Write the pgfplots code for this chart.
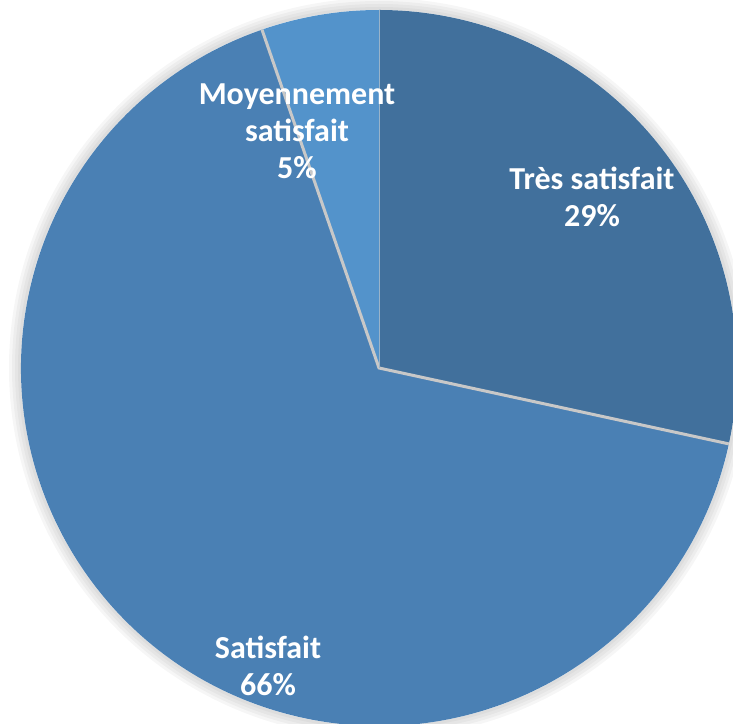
\documentclass[border=0pt]{standalone}
\usepackage{pgfplots}
\pgfplotsset{compat=1.18}
\usepackage{fontspec}
\setmainfont{Carlito}
\definecolor{tres}{HTML}{41709C}
\definecolor{sat}{HTML}{4A80B4}
\definecolor{moy}{HTML}{5393CB}
\definecolor{sep}{HTML}{C8C8C8}
\begin{document}
\begin{tikzpicture}
% values (percent), clockwise from 12 o'clock
\def\vTres{28.4}
\def\vSat{66.3}
\def\vMoy{5.3}
\def\cx{379}\def\cy{355}\def\R{358}
\pgfmathsetmacro\aA{90}
\pgfmathsetmacro\aB{90-\vTres*3.6}
\pgfmathsetmacro\aC{\aB-\vSat*3.6}
\pgfmathsetmacro\aD{\aC-\vMoy*3.6}
\pgfmathsetmacro\Ra{\R+12}
\pgfmathsetmacro\Rb{\R+9}
\pgfmathsetmacro\Rc{\R+6}
\pgfmathsetmacro\Rd{\R+3}
\begin{axis}[
  width=733pt, height=723pt, scale only axis,
  xmin=0, xmax=733, ymin=0, ymax=723,
  hide axis, clip=true,
]
% soft shadow
\fill[black, opacity=0.035] (axis cs:\cx,\cy) circle[radius=\Ra];
\fill[black, opacity=0.035] (axis cs:\cx,\cy) circle[radius=\Rb];
\fill[black, opacity=0.035] (axis cs:\cx,\cy) circle[radius=\Rc];
\fill[black, opacity=0.035] (axis cs:\cx,\cy) circle[radius=\Rd];
\fill[white] (axis cs:\cx,\cy) circle[radius=\R];
% slices
\fill[tres] (axis cs:\cx,\cy) -- (axis cs:{\cx+\R*cos(\aA)},{\cy+\R*sin(\aA)}) arc[start angle=\aA, end angle=\aB, radius=\R] -- cycle;
\fill[sat] (axis cs:\cx,\cy) -- (axis cs:{\cx+\R*cos(\aB)},{\cy+\R*sin(\aB)}) arc[start angle=\aB, end angle=\aC, radius=\R] -- cycle;
\fill[moy] (axis cs:\cx,\cy) -- (axis cs:{\cx+\R*cos(\aC)},{\cy+\R*sin(\aC)}) arc[start angle=\aC, end angle=\aD, radius=\R] -- cycle;
% separators
\draw[sep, line width=3pt] (axis cs:{\cx+\R*cos(\aB)},{\cy+\R*sin(\aB)}) -- (axis cs:\cx,\cy) -- (axis cs:{\cx+\R*cos(\aC)},{\cy+\R*sin(\aC)});
\draw[sep!60!moy, line width=1pt] (axis cs:\cx,\cy) -- (axis cs:{\cx+\R*cos(\aA)},{\cy+\R*sin(\aA)});
% labels
\node[white, align=center, font=\fontsize{32}{37}\selectfont\bfseries] at (axis cs:297,592) {Moyennement\\satisfait\\5\%};
\node[white, align=center, font=\fontsize{32}{37}\selectfont\bfseries] at (axis cs:592,526) {Très satisfait\\29\%};
\node[white, align=center, font=\fontsize{32}{37}\selectfont\bfseries] at (axis cs:268,57) {Satisfait\\66\%};
\end{axis}
\end{tikzpicture}
\end{document}
